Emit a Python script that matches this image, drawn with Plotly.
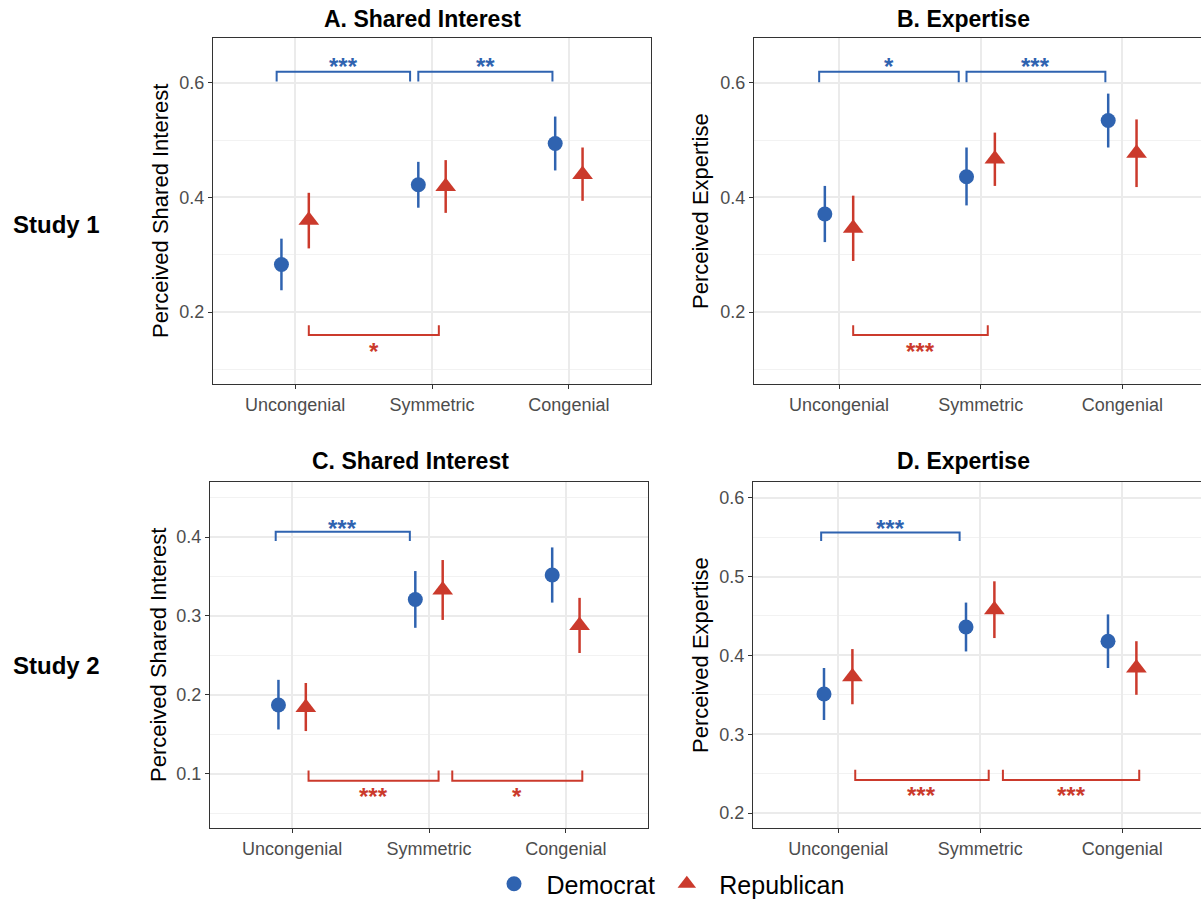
import plotly.graph_objects as go
import numpy as np

# ---------------- data ----------------
categories = ["Uncongenial", "Symmetric", "Congenial"]
parties = ["Democrat", "Republican"]

# Panel A (Study 1, Shared Interest)
a_dem = [0.283, 0.422, 0.494]
a_dem_lo = [0.238, 0.382, 0.447]
a_dem_hi = [0.328, 0.462, 0.541]
a_rep = [0.360, 0.419, 0.440]
a_rep_lo = [0.311, 0.373, 0.394]
a_rep_hi = [0.408, 0.465, 0.487]

# Panel B (Study 1, Expertise)
b_dem = [0.371, 0.436, 0.534]
b_dem_lo = [0.322, 0.386, 0.487]
b_dem_hi = [0.420, 0.487, 0.581]
b_rep = [0.346, 0.467, 0.477]
b_rep_lo = [0.289, 0.420, 0.418]
b_rep_hi = [0.403, 0.513, 0.536]

# Panel C (Study 2, Shared Interest)
c_dem = [0.187, 0.321, 0.352]
c_dem_lo = [0.156, 0.285, 0.317]
c_dem_hi = [0.219, 0.357, 0.387]
c_rep = [0.184, 0.333, 0.288]
c_rep_lo = [0.154, 0.295, 0.253]
c_rep_hi = [0.215, 0.371, 0.323]

# Panel D (Study 2, Expertise)
d_dem = [0.351, 0.436, 0.418]
d_dem_lo = [0.318, 0.405, 0.384]
d_dem_hi = [0.384, 0.467, 0.452]
d_rep = [0.373, 0.458, 0.384]
d_rep_lo = [0.338, 0.422, 0.350]
d_rep_hi = [0.408, 0.494, 0.418]

# significance brackets: (x_start, x_end, bar_y, tip_y, label_y, label)
a_blue_br = [(0.865, 1.84, 0.619, 0.602, 0.639, "***"), (1.90, 2.88, 0.619, 0.602, 0.639, "**")]
a_red_br = [(1.10, 2.05, 0.160, 0.177, 0.141, "*")]
b_blue_br = [(0.86, 1.845, 0.619, 0.601, 0.639, "*"), (1.90, 2.88, 0.619, 0.601, 0.639, "***")]
b_red_br = [(1.10, 2.05, 0.160, 0.177, 0.141, "***")]
c_blue_br = [(0.88, 1.86, 0.407, 0.395, 0.419, "***")]
c_red_br = [(1.12, 2.07, 0.091, 0.104, 0.078, "***"), (2.17, 3.12, 0.091, 0.104, 0.078, "*")]
d_blue_br = [(0.88, 1.855, 0.556, 0.545, 0.569, "***")]
d_red_br = [(1.12, 2.06, 0.242, 0.255, 0.230, "***"), (2.16, 3.12, 0.242, 0.255, 0.230, "***")]

panel_titles = ["A. Shared Interest", "B. Expertise", "C. Shared Interest", "D. Expertise"]
y_titles = ["Perceived Shared Interest", "Perceived Expertise",
            "Perceived Shared Interest", "Perceived Expertise"]
row_labels = ["Study 1", "Study 2"]

# ---------------- style / layout ----------------
W, H = 1201, 907
BLUE = "#2F63B0"
RED = "#CB3A2C"
FONT = "Liberation Sans, Arial, sans-serif"
DODGE = 0.1

def fx(p):
    return p / W

def fy(p):
    return 1 - p / H

panels = [
    dict(dem=(a_dem, a_dem_lo, a_dem_hi), rep=(a_rep, a_rep_lo, a_rep_hi),
         blue=a_blue_br, red=a_red_br,
         box=(213, 651, 38, 384), xr=[0.4, 3.6], yr=[0.0745, 0.678], dt=0.2,
         title_xy=(422, 19), ytx=160, right=True),
    dict(dem=(b_dem, b_dem_lo, b_dem_hi), rep=(b_rep, b_rep_lo, b_rep_hi),
         blue=b_blue_br, red=b_red_br,
         box=(754, 1201, 38, 384), xr=[0.4, 3.555], yr=[0.0745, 0.678], dt=0.2,
         title_xy=(963, 19), ytx=700, right=False),
    dict(dem=(c_dem, c_dem_lo, c_dem_hi), rep=(c_rep, c_rep_lo, c_rep_hi),
         blue=c_blue_br, red=c_red_br,
         box=(210, 648, 482, 828), xr=[0.4, 3.6], yr=[0.031, 0.470], dt=0.1,
         title_xy=(411, 461), ytx=158, right=True),
    dict(dem=(d_dem, d_dem_lo, d_dem_hi), rep=(d_rep, d_rep_lo, d_rep_hi),
         blue=d_blue_br, red=d_red_br,
         box=(753, 1201, 482, 828), xr=[0.4, 3.555], yr=[0.181, 0.620], dt=0.1,
         title_xy=(963, 461), ytx=700, right=False),
]

fig = go.Figure()
shapes = []
annotations = []
base_x = np.arange(1, len(categories) + 1)

for i, p in enumerate(panels):
    n = "" if i == 0 else str(i + 1)
    xa, ya = "x" + n, "y" + n
    x0, x1, y0, y1 = p["box"]

    for party, key, color, symbol, size, off in [
        (parties[0], "dem", BLUE, "circle", 15, -DODGE),
        (parties[1], "rep", RED, "triangle-up", 18, DODGE),
    ]:
        val, lo, hi = (np.array(v) for v in p[key])
        fig.add_trace(go.Scatter(
            x=base_x + off, y=val, mode="markers", name="\u2002" + party + "\u00a0",
            legendgroup=party, showlegend=(i == 0),
            marker=dict(symbol=symbol, size=size, color=color, line=dict(width=0)),
            error_y=dict(type="data", symmetric=False, array=hi - val,
                         arrayminus=val - lo, thickness=2.5, width=0, color=color),
            xaxis=xa, yaxis=ya, hoverinfo="x+y",
        ))

    for brs, color in [(p["blue"], BLUE), (p["red"], RED)]:
        for (xs, xe, yb, yt, yl, lab) in brs:
            shapes.append(dict(
                type="path", xref=xa, yref=ya,
                path=f"M {xs},{yt} L {xs},{yb} L {xe},{yb} L {xe},{yt}",
                line=dict(color=color, width=2)))
            annotations.append(dict(
                x=(xs + xe) / 2, y=yl, xref=xa, yref=ya, text=f"<b>{lab}</b>",
                showarrow=False,
                font=dict(family=FONT, size=24, color=color),
                xanchor="center", yanchor="middle", yshift=-6))

    axis_common = dict(showline=True, linecolor="#333333", linewidth=1.3,
                       ticks="outside", ticklen=4, tickwidth=1.3, tickcolor="#333333",
                       tickfont=dict(family=FONT, size=18, color="#4D4D4D"),
                       zeroline=False)
    fig.update_layout(**{
        ("xaxis" + n): dict(
            domain=[fx(x0), fx(x1)], range=p["xr"], anchor=ya,
            tickmode="array", tickvals=list(base_x), ticktext=categories,
            showgrid=True, gridcolor="#EBEBEB", gridwidth=1.6,
            mirror=True, **axis_common),
        ("yaxis" + n): dict(
            domain=[fy(y1), fy(y0)], range=p["yr"], anchor=xa,
            dtick=p["dt"], tick0=0, tickformat=".1f",
            showgrid=True, gridcolor="#EBEBEB", gridwidth=1.6,
            minor=dict(dtick=p["dt"] / 2, showgrid=True, gridcolor="#F2F2F2", gridwidth=1),
            mirror=p["right"], **axis_common),
    })

    tx, ty = p["title_xy"]
    annotations.append(dict(
        x=fx(tx), y=fy(ty), xref="paper", yref="paper", text=f"<b>{panel_titles[i]}</b>",
        showarrow=False, xanchor="center", yanchor="middle",
        font=dict(family=FONT, size=23, color="black")))
    annotations.append(dict(
        x=fx(p["ytx"]), y=fy((y0 + y1) / 2), xref="paper", yref="paper", text=y_titles[i],
        showarrow=False, textangle=-90, xanchor="center", yanchor="middle",
        font=dict(family=FONT, size=22, color="black")))

for lab, ypx in zip(row_labels, [225, 665]):
    annotations.append(dict(
        x=fx(56), y=fy(ypx), xref="paper", yref="paper", text=f"<b>{lab}</b>",
        showarrow=False, xanchor="center", yanchor="middle",
        font=dict(family=FONT, size=24, color="black")))

fig.update_layout(
    width=W, height=H,
    margin=dict(l=0, r=0, t=0, b=0),
    paper_bgcolor="white", plot_bgcolor="white",
    shapes=shapes, annotations=annotations,
    showlegend=True,
    legend=dict(orientation="h", x=fx(494), y=0, xanchor="left", yanchor="bottom",
                font=dict(family=FONT, size=25, color="black"),
                itemsizing="trace", bgcolor="rgba(0,0,0,0)", tracegroupgap=0),
    font=dict(family=FONT),
)

fig.write_html("out.html", config={"displayModeBar": False},
               post_script="document.body.style.margin='0px';document.body.style.overflow='hidden';")
